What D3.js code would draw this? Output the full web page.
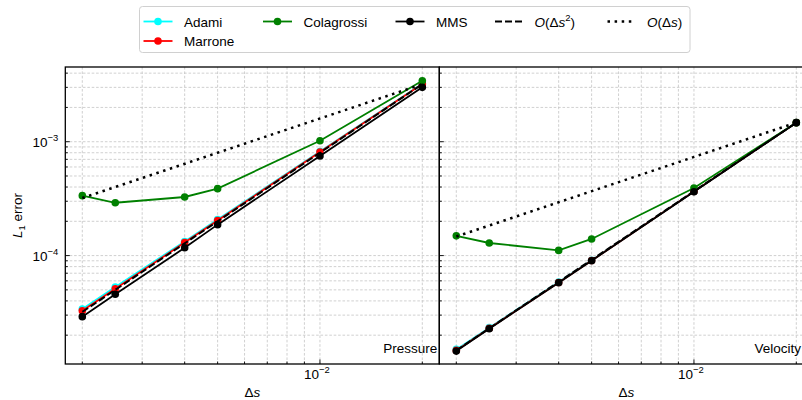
<!DOCTYPE html>
<html><head><meta charset="utf-8">
<script src="https://cdn.jsdelivr.net/npm/d3@7"></script>
<style>
html,body{margin:0;padding:0;background:#fff;}
svg{display:block;font-family:"Liberation Sans",Arial,sans-serif;}
</style></head>
<body><svg id="c" width="802" height="400"></svg>
<script>
// ---- data ----
const dx = [0.002, 0.0025, 0.004, 0.005, 0.01, 0.02];
const panels = ["Pressure", "Velocity"];
const adamiP      = [3.40e-5, 5.30e-5, 1.33e-4, 2.07e-4, 8.20e-4, 3.22e-3];
const marroneP    = [3.28e-5, 5.12e-5, 1.30e-4, 2.03e-4, 8.12e-4, 3.21e-3];
const colagrossiP = [3.36e-4, 2.91e-4, 3.27e-4, 3.87e-4, 1.02e-3, 3.43e-3];
const mmsP        = [2.91e-5, 4.57e-5, 1.17e-4, 1.87e-4, 7.49e-4, 3.00e-3];
const adamiV      = [1.50e-5, 2.33e-5, 5.85e-5, 9.10e-5, 3.66e-4, 1.47e-3];
const marroneV    = [1.47e-5, 2.30e-5, 5.80e-5, 9.05e-5, 3.65e-4, 1.47e-3];
const colagrossiV = [1.49e-4, 1.29e-4, 1.11e-4, 1.40e-4, 3.92e-4, 1.47e-3];
const mmsV        = [1.45e-5, 2.28e-5, 5.78e-5, 9.02e-5, 3.64e-4, 1.47e-3];
const refDx = [0.002, 0.02];
const ref2P = [3.2e-5, 3.2e-3];
const ref1P = [3.2e-4, 3.2e-3];
const ref2V = [1.47e-5, 1.47e-3];
const ref1V = [1.47e-4, 1.47e-3];
const seriesNames = ["Adami", "Marrone", "Colagrossi", "MMS"];
const seriesColors = ["#00ffff", "#ff0000", "#008000", "#000000"];
const xTicks = [0.01];
const yTicks = [1e-4, 1e-3];

const panelData = [
  {name: panels[0], series: [adamiP, marroneP, colagrossiP, mmsP], r2: ref2P, r1: ref1P},
  {name: panels[1], series: [adamiV, marroneV, colagrossiV, mmsV], r2: ref2V, r1: ref1V}
];

// ---- layout ----
const svg = d3.select("#c");
const yTop = 67, yBot = 364, pw = 374, lefts = [65.3, 439.3];
const y = d3.scaleLog().domain([Math.pow(10, -4.952), Math.pow(10, -2.344)]).range([yBot, yTop]);

function minors(lo, hi) {
  const out = [];
  for (let e = -6; e <= -1; e++) for (let m = 1; m <= 9; m++) {
    const v = m * Math.pow(10, e);
    if (v >= lo && v <= hi) out.push(v);
  }
  return out;
}

const fs = 13.5;
function powLabel(g, base, exp, x, yy, anchor) {
  const t = g.append("text").attr("x", x).attr("y", yy).attr("text-anchor", anchor)
    .attr("font-size", fs).attr("fill", "#000");
  t.append("tspan").text(base);
  t.append("tspan").attr("font-size", fs * 0.7).attr("dy", -6).text("\u2212" + exp);
  return t;
}

panelData.forEach((pd, i) => {
  const x0 = lefts[i];
  const x = d3.scaleLog().domain([Math.pow(10, -2.749), Math.pow(10, -1.649)]).range([x0, x0 + pw]);
  const g = svg.append("g");
  const clipId = "clip" + i;
  svg.append("clipPath").attr("id", clipId).append("rect")
    .attr("x", x0).attr("y", yTop).attr("width", pw).attr("height", yBot - yTop);

  const gx = minors(x.domain()[0], x.domain()[1]);
  const gy = minors(y.domain()[0], y.domain()[1]);
  const grid = g.append("g").attr("stroke", "#c4c4c4").attr("stroke-width", 0.8)
    .attr("stroke-dasharray", "2.6,1.8");
  gx.forEach(v => grid.append("line").attr("x1", x(v)).attr("x2", x(v)).attr("y1", yTop).attr("y2", yBot));
  gy.forEach(v => grid.append("line").attr("x1", x0).attr("x2", x0 + pw).attr("y1", y(v)).attr("y2", y(v)));

  const plot = g.append("g").attr("clip-path", `url(#${clipId})`);
  const line = d3.line().x((d, k) => x(dx[k])).y(d => y(d));
  pd.series.forEach((s, k) => {
    plot.append("path").datum(s).attr("d", line).attr("fill", "none")
      .attr("stroke", seriesColors[k]).attr("stroke-width", 1.8);
    plot.selectAll(null).data(s).enter().append("circle")
      .attr("cx", (d, j) => x(dx[j])).attr("cy", d => y(d)).attr("r", 3.8)
      .attr("fill", seriesColors[k]);
  });
  const rline = d3.line().x((d, k) => x(refDx[k])).y(d => y(d));
  plot.append("path").datum(pd.r2).attr("d", rline).attr("fill", "none")
    .attr("stroke", "#000").attr("stroke-width", 2).attr("stroke-dasharray", "7,3");
  plot.append("path").datum(pd.r1).attr("d", rline).attr("fill", "none")
    .attr("stroke", "#000").attr("stroke-width", 2.5).attr("stroke-dasharray", "2.5,4.6");

  const tk = g.append("g").attr("stroke", "#000").attr("stroke-width", 0.9);
  gx.forEach(v => {
    const major = xTicks.some(t => Math.abs(t - v) / v < 1e-9);
    tk.append("line").attr("x1", x(v)).attr("x2", x(v)).attr("y1", yBot).attr("y2", yBot - (major ? 4.5 : 2.5));
  });
  gy.forEach(v => {
    const major = yTicks.some(t => Math.abs(t - v) / v < 1e-9);
    tk.append("line").attr("x1", x0).attr("x2", x0 + (major ? 4.5 : 2.5)).attr("y1", y(v)).attr("y2", y(v));
  });

  g.append("rect").attr("x", x0).attr("y", yTop).attr("width", pw).attr("height", yBot - yTop)
    .attr("fill", "none").attr("stroke", "#000").attr("stroke-width", 1.3);

  xTicks.forEach(v => powLabel(g, "10", 2, x(v) - 3, yBot + 15, "middle"));
  const xl = g.append("text").attr("x", x0 + pw / 2).attr("y", yBot + 33).attr("text-anchor", "middle")
    .attr("font-size", fs);
  xl.append("tspan").text("\u0394");
  xl.append("tspan").attr("font-style", "italic").text("s");

  g.append("text").attr("x", Math.min(x0 + pw - 2, 801)).attr("y", yBot - 11).attr("text-anchor", "end")
    .attr("font-size", fs).text(pd.name);

  if (i === 0) {
    yTicks.forEach(v => powLabel(g, "10", Math.round(-Math.log10(v)), x0 - 20, y(v) + 5, "middle"));
    const yl = g.append("text").attr("transform", `translate(22,${(yTop + yBot) / 2}) rotate(-90)`)
      .attr("text-anchor", "middle").attr("font-size", fs);
    yl.append("tspan").attr("font-style", "italic").text("L");
    yl.append("tspan").attr("font-size", fs * 0.7).attr("dy", 3).text("1");
    yl.append("tspan").attr("dy", -3).text(" error");
  }
});

// ---- legend ----
const lg = svg.append("g");
lg.append("rect").attr("x", 139.5).attr("y", 6.5).attr("width", 550.5).attr("height", 46)
  .attr("rx", 3).attr("fill", "#fff").attr("fill-opacity", 0.8).attr("stroke", "#d0d0d0").attr("stroke-width", 1);
const legItems = [
  {x: 143.5, y: 21.5, k: 0}, {x: 143.5, y: 41, k: 1},
  {x: 263, y: 21.5, k: 2}, {x: 395.5, y: 21.5, k: 3}
];
legItems.forEach(it => {
  lg.append("line").attr("x1", it.x).attr("x2", it.x + 29).attr("y1", it.y).attr("y2", it.y)
    .attr("stroke", seriesColors[it.k]).attr("stroke-width", 1.8);
  lg.append("circle").attr("cx", it.x + 14.5).attr("cy", it.y).attr("r", 3.8).attr("fill", seriesColors[it.k]);
  lg.append("text").attr("x", it.x + 40.5).attr("y", it.y + 5).attr("font-size", fs).text(seriesNames[it.k]);
});
lg.append("line").attr("x1", 495).attr("x2", 522).attr("y1", 21.5).attr("y2", 21.5)
  .attr("stroke", "#000").attr("stroke-width", 2).attr("stroke-dasharray", "7,3");
const t2 = lg.append("text").attr("x", 534.5).attr("y", 26.5).attr("font-size", fs);
t2.append("tspan").attr("font-style", "italic").text("O");
t2.append("tspan").text("(\u0394");
t2.append("tspan").attr("font-style", "italic").text("s");
t2.append("tspan").attr("font-size", fs * 0.7).attr("dy", -6).text("2");
t2.append("tspan").attr("dy", 6).text(")");
lg.append("line").attr("x1", 607.5).attr("x2", 634).attr("y1", 21.5).attr("y2", 21.5)
  .attr("stroke", "#000").attr("stroke-width", 2.5).attr("stroke-dasharray", "2.5,4.6");
const t1 = lg.append("text").attr("x", 647).attr("y", 26.5).attr("font-size", fs);
t1.append("tspan").attr("font-style", "italic").text("O");
t1.append("tspan").text("(\u0394");
t1.append("tspan").attr("font-style", "italic").text("s");
t1.append("tspan").text(")");
</script>
</body></html>
